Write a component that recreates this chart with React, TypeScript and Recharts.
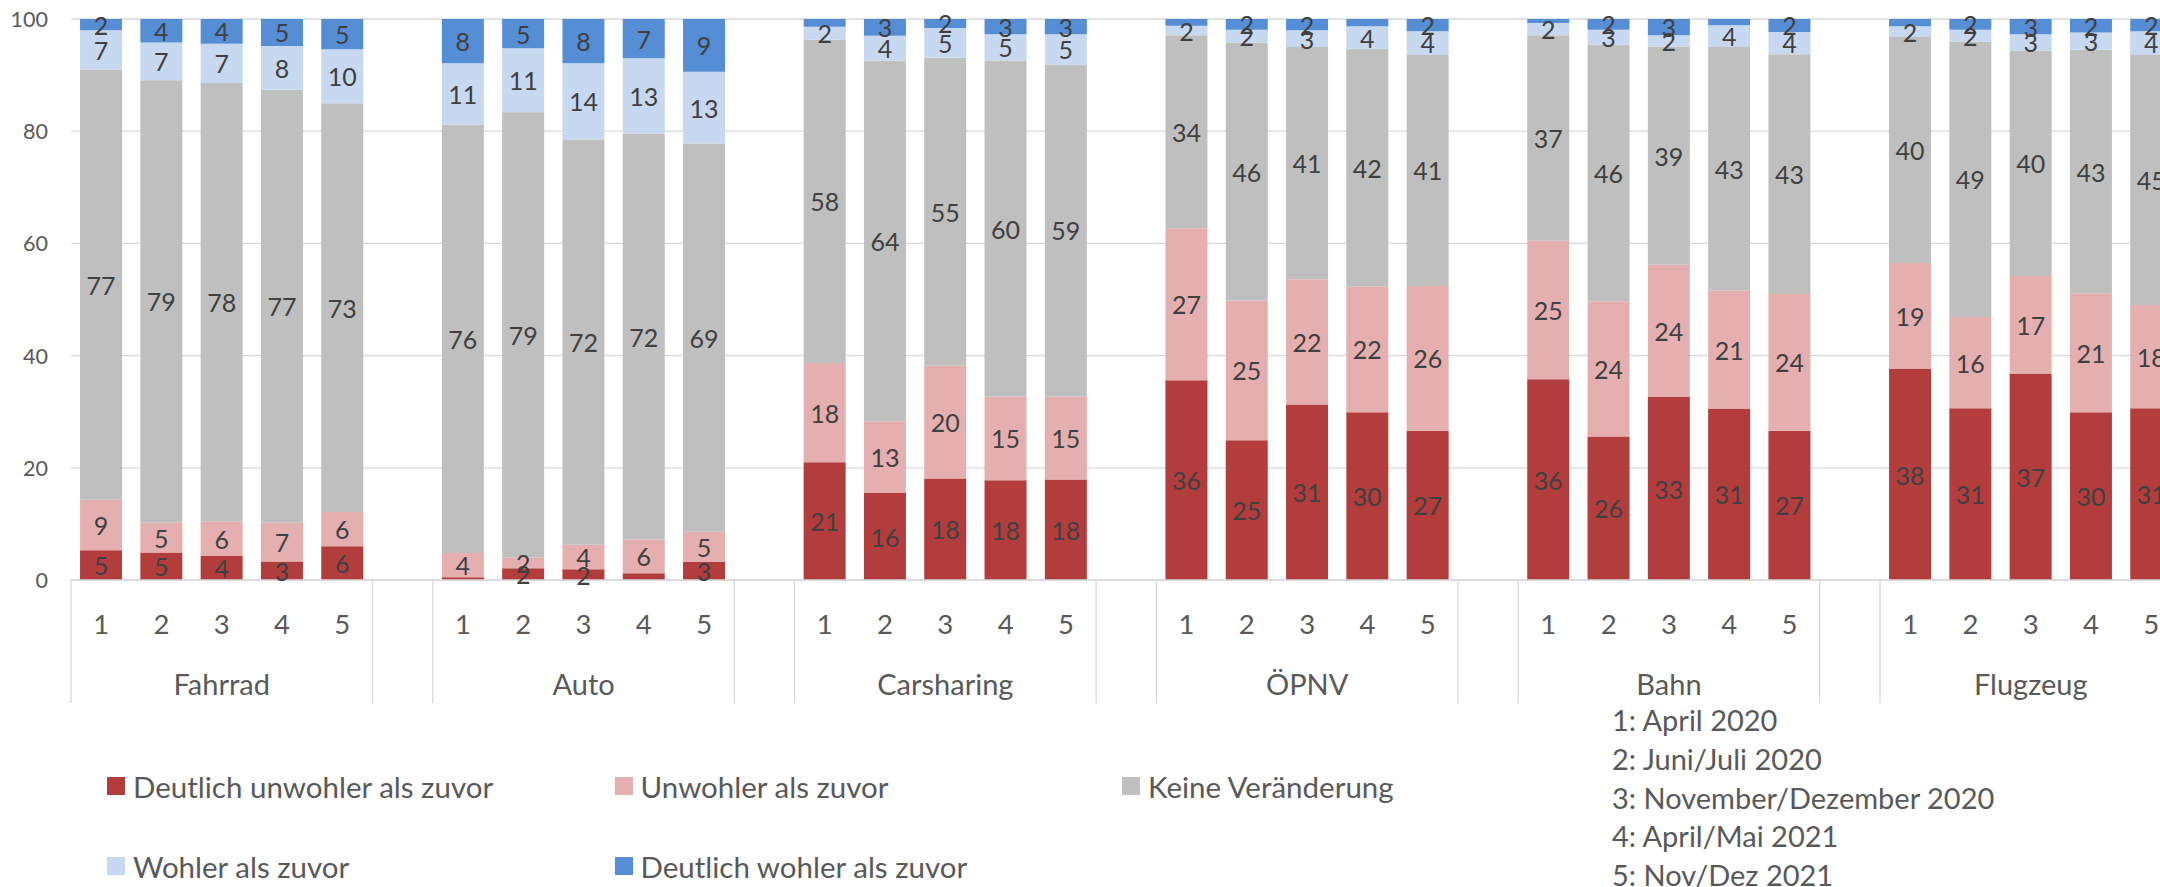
import React from "react";
import { BarChart, Bar, XAxis, YAxis, CartesianGrid, LabelList } from "recharts";

const GROUPS = ["Fahrrad", "Auto", "Carsharing", "ÖPNV", "Bahn", "Flugzeug"];
const PERIODS = ["1", "2", "3", "4", "5"];
const PERIOD_NOTES = [
  "1: April 2020",
  "2: Juni/Juli 2020",
  "3: November/Dezember 2020",
  "4: April/Mai 2021",
  "5: Nov/Dez 2021",
];
const SERIES_NAMES = [
  "Deutlich unwohler als zuvor",
  "Unwohler als zuvor",
  "Keine Veränderung",
  "Wohler als zuvor",
  "Deutlich wohler als zuvor",
];
const SERIES_COLORS = ["#B33C3C", "#E6AFAF", "#BFBFBF", "#C6D9F0", "#558ED5"];
const Y_TICKS = [0, 20, 40, 60, 80, 100];

// values in group order: Fahrrad, Auto, Carsharing, ÖPNV, Bahn, Flugzeug (periods 1..5 each)
const deutlichUnwohler = [
  5.3, 4.9, 4.3, 3.3, 6.0,
  0.5, 2.1, 1.9, 1.2, 3.2,
  21.0, 15.5, 18.1, 17.8, 17.9,
  35.6, 24.9, 31.3, 29.9, 26.6,
  35.8, 25.6, 32.6, 30.5, 26.6,
  37.6, 30.6, 36.8, 29.9, 30.6,
];
const unwohler = [
  9.0, 5.3, 6.1, 6.9, 6.1,
  4.3, 1.9, 4.4, 6.0, 5.4,
  17.7, 12.8, 20.1, 14.9, 14.8,
  27.1, 24.9, 22.3, 22.4, 25.8,
  24.7, 24.1, 23.6, 21.1, 24.4,
  18.9, 16.3, 17.4, 21.2, 18.4,
];
const keineVeraenderung = [
  76.7, 78.9, 78.2, 77.2, 72.9,
  76.4, 79.4, 72.2, 72.4, 69.2,
  57.6, 64.3, 54.9, 59.9, 59.2,
  34.4, 46.0, 41.4, 42.4, 41.2,
  36.6, 45.7, 38.9, 43.4, 42.7,
  40.3, 49.1, 40.2, 43.4, 44.6,
];
const wohler = [
  7.0, 6.7, 7.0, 7.8, 9.6,
  10.9, 11.4, 13.6, 13.4, 12.8,
  2.3, 4.4, 5.3, 4.7, 5.4,
  1.7, 2.3, 3.0, 4.0, 4.2,
  2.2, 2.7, 2.0, 3.9, 4.0,
  1.9, 2.1, 2.9, 3.1, 4.2,
];
const deutlichWohler = [
  2.0, 4.2, 4.4, 4.8, 5.4,
  7.9, 5.2, 7.9, 7.0, 9.4,
  1.4, 3.0, 1.6, 2.7, 2.7,
  1.2, 1.9, 2.0, 1.3, 2.2,
  0.7, 1.9, 2.9, 1.1, 2.3,
  1.3, 1.9, 2.7, 2.4, 2.2,
];
const SERIES_VALUES = [deutlichUnwohler, unwohler, keineVeraenderung, wohler, deutlichWohler];
const SERIES_KEYS = ["s0", "s1", "s2", "s3", "s4"];

// ---- layout constants ----
const FONT = "Lato, 'Open Sans', sans-serif";
const TEXT = "#595959";
const CHART_W = 2200;
const CHART_H = 887;
const Y_AXIS_W = 71;
const X_AXIS_H = 123;
const MARGIN = { top: 19, right: 18.5, bottom: 184, left: 0 };
const PLOT_W = CHART_W - MARGIN.left - MARGIN.right - Y_AXIS_W;

type Row = { slot: string; group: string; period: string; pos: number; [k: string]: any };
const rows: Row[] = [];
GROUPS.forEach((g, gi) => {
  PERIODS.forEach((p, pi) => {
    const k = gi * PERIODS.length + pi;
    const r: Row = { slot: `${g}-${p}`, group: g, period: p, pos: pi };
    SERIES_KEYS.forEach((sk, si) => {
      r[sk] = SERIES_VALUES[si][k];
    });
    rows.push(r);
  });
  if (gi < GROUPS.length - 1) rows.push({ slot: `gap-${gi}`, group: "", period: "", pos: -1 });
});
const SLOT_W = PLOT_W / rows.length;
const rowBySlot: Record<string, Row> = {};
rows.forEach((r) => (rowBySlot[r.slot] = r));

const XTick = (props: any) => {
  const { x, y, payload } = props;
  const row = rowBySlot[payload.value];
  if (!row || row.pos < 0) return <g />;
  return (
    <g>
      <text
        x={x}
        y={y + 43}
        textAnchor="middle"
        dominantBaseline="central"
        fontFamily={FONT}
        fontSize={27.5}
        fill={TEXT}
      >
        {row.period}
      </text>
      {row.pos === 2 && (
        <text
          x={x}
          y={y + 103}
          textAnchor="middle"
          dominantBaseline="central"
          fontFamily={FONT}
          fontSize={29}
          fill={TEXT}
        >
          {row.group}
        </text>
      )}
      {row.pos === 0 && (
        <line x1={x - SLOT_W / 2} x2={x - SLOT_W / 2} y1={y} y2={y + X_AXIS_H} stroke="#D9D9D9" strokeWidth={1.3} />
      )}
      {row.pos === PERIODS.length - 1 && (
        <line x1={x + SLOT_W / 2} x2={x + SLOT_W / 2} y1={y} y2={y + X_AXIS_H} stroke="#D9D9D9" strokeWidth={1.3} />
      )}
    </g>
  );
};

const YTick = (props: any) => {
  const { y, payload } = props;
  return (
    <text
      x={Y_AXIS_W - 23}
      y={y}
      textAnchor="end"
      dominantBaseline="central"
      fontFamily={FONT}
      fontSize={21.5}
      fill={TEXT}
    >
      {payload.value}
    </text>
  );
};

const makeLabel = () => (props: any) => {
  const vb = props.viewBox || {};
  const x = props.x ?? vb.x;
  const y = props.y ?? vb.y;
  const w = props.width ?? vb.width;
  const h = props.height ?? vb.height;
  const v = Number(props.value);
  if (!isFinite(v) || v < 1.5) return null;
  return (
    <text
      x={x + w / 2}
      y={y + h / 2}
      textAnchor="middle"
      dominantBaseline="central"
      fontFamily={FONT}
      fontSize={25}
      fill="#404040"
    >
      {Math.round(v)}
    </text>
  );
};

export default function App() {
  return (
    <div
      style={{
        position: "fixed",
        left: 0,
        top: 0,
        width: 2160,
        height: 887,
        overflow: "hidden",
        background: "#FFFFFF",
        fontFamily: FONT,
      }}
    >
      <BarChart
        width={CHART_W}
        height={CHART_H}
        data={rows}
        margin={MARGIN}
        barCategoryGap="15%"
      >
        <CartesianGrid vertical={false} stroke="#D9D9D9" strokeWidth={1.3} />
        <XAxis
          dataKey="slot"
          interval={0}
          height={X_AXIS_H}
          tickSize={0}
          tickMargin={0}
          tickLine={false}
          axisLine={{ stroke: "#D9D9D9", strokeWidth: 1.5 }}
          tick={<XTick />}
        />
        <YAxis
          width={Y_AXIS_W}
          domain={[0, 100]}
          ticks={Y_TICKS}
          allowDataOverflow
          axisLine={false}
          tickLine={false}
          tickSize={0}
          tick={<YTick />}
        />
        {SERIES_KEYS.map((sk, i) => (
          <Bar
            key={sk}
            dataKey={sk}
            name={SERIES_NAMES[i]}
            stackId="a"
            fill={SERIES_COLORS[i]}
            isAnimationActive={false}
          >
            <LabelList dataKey={sk} content={makeLabel()} />
          </Bar>
        ))}
      </BarChart>

      {/* legend */}
      {SERIES_NAMES.map((name, i) => {
        const col = i % 3;
        const row = Math.floor(i / 3);
        const left = 107 + col * 507.5;
        const cy = 786 + row * 80;
        return (
          <div
            key={name}
            style={{
              position: "absolute",
              left,
              top: cy - 20,
              height: 40,
              display: "flex",
              alignItems: "center",
              whiteSpace: "nowrap",
            }}
          >
            <div style={{ width: 18, height: 18, background: SERIES_COLORS[i], marginRight: 8 }} />
            <span style={{ fontSize: 29.5, color: TEXT, fontFamily: FONT }}>{name}</span>
          </div>
        );
      })}

      {/* period notes */}
      {PERIOD_NOTES.map((t, i) => (
        <div
          key={t}
          style={{
            position: "absolute",
            left: 1612,
            top: 720 + i * 38.8 - 20,
            height: 40,
            lineHeight: "40px",
            fontSize: 29,
            color: TEXT,
            fontFamily: FONT,
            whiteSpace: "nowrap",
          }}
        >
          {t}
        </div>
      ))}
    </div>
  );
}
